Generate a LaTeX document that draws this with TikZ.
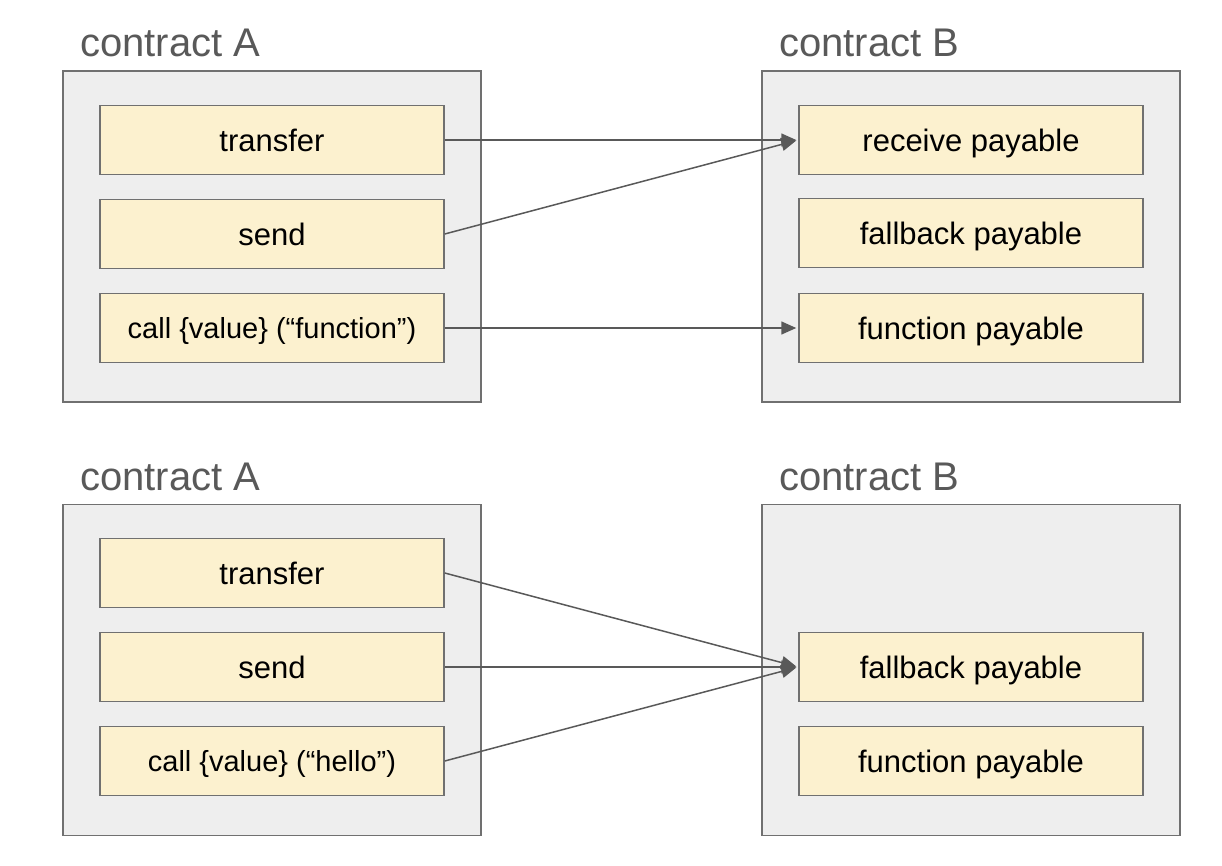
\documentclass[tikz,border=0pt]{standalone}
\usepackage{fontspec}
\setmainfont{Liberation Sans}
\usetikzlibrary{arrows.meta}
\definecolor{outerfill}{HTML}{EEEEEE}
\definecolor{boxline}{HTML}{707070}
\definecolor{innerfill}{HTML}{FCF1CF}
\definecolor{titlegray}{HTML}{595959}
\definecolor{arrowgray}{HTML}{595959}
\tikzset{
  outerbox/.style={draw=boxline, fill=outerfill, line width=1.5pt, minimum width=418pt, minimum height=331pt, inner sep=0pt},
  funcbox/.style={draw=boxline, fill=innerfill, line width=1.5pt, minimum width=344pt, minimum height=69pt, inner sep=0pt,
    font=\fontsize{31}{37}\selectfont, text height=29pt, text depth=6pt},
  callbox/.style={funcbox, font=\fontsize{29}{35}\selectfont, text height=27pt, text depth=7pt},
  ctitle/.style={anchor=base west, inner sep=0pt, text=titlegray, font=\fontsize{40}{47}\selectfont},
  link/.style={draw=arrowgray, line width=1.5pt, -{Triangle[length=15pt, width=13pt]}, shorten >=2pt}
}
\begin{document}
\begin{tikzpicture}[x=1pt, y=-1pt]
\useasboundingbox (0,0) rectangle (1222,866);
% ---------- top ----------
\node[ctitle] (tA1) at (80,57) {contract A};
\node[ctitle] (tB1) at (779,57) {contract B};
\node[outerbox] (oA1) at (272,236.5) {};
\node[outerbox] (oB1) at (971,236.5) {};
\node[funcbox] (a1t) at (272,140) {transfer};
\node[funcbox] (a1s) at (272,234) {send};
\node[callbox] (a1c) at (272,328) {call \{value\} (“function”)};
\node[funcbox] (b1r) at (971,140) {receive payable};
\node[funcbox] (b1f) at (971,233) {fallback payable};
\node[funcbox] (b1p) at (971,328) {function payable};
\draw[link] (a1t.east) -- (b1r.west);
\draw[link] (a1s.east) -- (b1r.west);
\draw[link] (a1c.east) -- (b1p.west);
% ---------- bottom ----------
\node[ctitle] (tA2) at (80,490) {contract A};
\node[ctitle] (tB2) at (779,490) {contract B};
\node[outerbox] (oA2) at (272,670) {};
\node[outerbox] (oB2) at (971,670) {};
\node[funcbox] (a2t) at (272,573) {transfer};
\node[funcbox] (a2s) at (272,667) {send};
\node[callbox] (a2c) at (272,761) {call \{value\} (“hello”)};
\node[funcbox] (b2f) at (971,667) {fallback payable};
\node[funcbox] (b2p) at (971,761) {function payable};
\draw[link] (a2t.east) -- (b2f.west);
\draw[link] (a2s.east) -- (b2f.west);
\draw[link] (a2c.east) -- (b2f.west);
\end{tikzpicture}
\end{document}
